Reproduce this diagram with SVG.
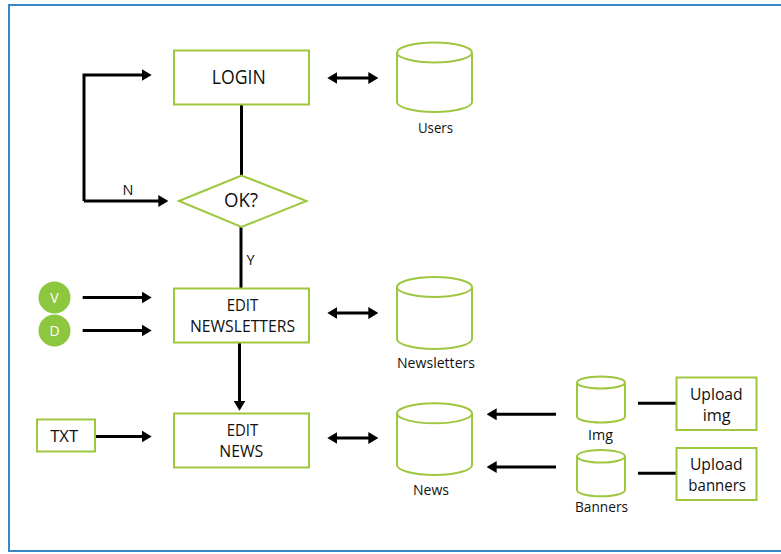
<svg xmlns="http://www.w3.org/2000/svg" width="781" height="554" viewBox="0 0 781 554">
  <style>
    .box { fill: #ffffff; stroke: #9dc73f; stroke-width: 2; }
    .db { fill: #ffffff; stroke: #9dc73f; stroke-width: 2; }
    .dot { fill: #8dc63f; }
    .wire { fill: none; stroke: #000000; stroke-width: 3; }
    .arrow { fill: none; stroke: #000000; stroke-width: 3; marker-end: url(#head); }
    .both { fill: none; stroke: #000000; stroke-width: 3; marker-start: url(#head); marker-end: url(#head); }
    text { font-family: "Open Sans", "Noto Sans", "DejaVu Sans", sans-serif; fill: #111111; text-anchor: middle; }
    .big { font-size: 20px; }
    .mid { font-size: 17px; }
    .up { font-size: 15.6px; }
    .small { font-size: 14.5px; }
    .dotlabel { font-size: 14px; fill: #ffffff; }
  </style>
  <defs>
    <marker id="head" viewBox="0 0 10 12" markerWidth="10" markerHeight="12" refX="2" refY="6" orient="auto-start-reverse" markerUnits="userSpaceOnUse">
      <path d="M0,0 L10,6 L0,12 z" fill="#000000"/>
    </marker>
  </defs>

  <!-- frame -->
  <rect x="9" y="5" width="790" height="546" fill="#ffffff" stroke="#3b87c6" stroke-width="2"/>

  <!-- connectors -->
  <g id="connectors">
    <path class="wire" d="M241.5,104 V176"/>
    <path class="arrow" d="M84,201 V75 H143.7"/>
    <path class="arrow" d="M84,201 H160.3"/>
    <path class="wire" d="M241,227 V288"/>
    <path class="both" d="M335.3,78 H370.3"/>
    <path class="both" d="M335.3,313 H370.3"/>
    <path class="both" d="M335.3,438 H370.3"/>
    <path class="arrow" d="M82.7,297.5 H143.7"/>
    <path class="arrow" d="M82.7,330.5 H143.7"/>
    <path class="arrow" d="M239.5,342 V402.7"/>
    <path class="arrow" d="M95,436.5 H143.7"/>
    <path class="arrow" d="M556,414.3 H494.7"/>
    <path class="arrow" d="M556,467 H494.7"/>
    <path class="wire" d="M638,403.3 H676"/>
    <path class="wire" d="M638,473.3 H676"/>
    <text class="small" x="128" y="195">N</text>
    <text class="small" x="250.5" y="265">Y</text>
  </g>

  <g id="login">
    <rect class="box" x="174" y="50.5" width="135" height="54"/>
    <text class="big" x="238.7" y="84" textLength="54" lengthAdjust="spacingAndGlyphs">LOGIN</text>
  </g>

  <g id="ok">
    <polygon class="box" points="179,201 241.5,175.5 306.5,201 241.5,227"/>
    <text class="big" x="241" y="207" textLength="34" lengthAdjust="spacingAndGlyphs">OK?</text>
  </g>

  <g id="users">
    <path class="db" d="M397,52.5 V102 A37.5,10 0 0 0 472,102 V52.5"/>
    <ellipse class="db" cx="434.5" cy="52.5" rx="37.5" ry="10"/>
    <text class="small" x="435.5" y="133" textLength="35" lengthAdjust="spacingAndGlyphs">Users</text>
  </g>

  <g id="edit-newsletters">
    <rect class="box" x="174" y="288.5" width="135" height="54"/>
    <text class="mid" x="242.5" y="310.7" textLength="31.6" lengthAdjust="spacingAndGlyphs">EDIT</text>
    <text class="mid" x="242.5" y="331.7" textLength="105" lengthAdjust="spacingAndGlyphs">NEWSLETTERS</text>
  </g>

  <g id="v">
    <circle class="dot" cx="54.5" cy="297.5" r="16"/>
    <text class="dotlabel" x="54.5" y="302.5">V</text>
  </g>

  <g id="d">
    <circle class="dot" cx="54.5" cy="330.5" r="16"/>
    <text class="dotlabel" x="54.5" y="335.5">D</text>
  </g>

  <g id="newsletters">
    <path class="db" d="M397,287 V339 A37.5,10 0 0 0 472,339 V287"/>
    <ellipse class="db" cx="434.5" cy="287" rx="37.5" ry="10"/>
    <text class="small" x="436" y="368" textLength="78" lengthAdjust="spacingAndGlyphs">Newsletters</text>
  </g>

  <g id="edit-news">
    <rect class="box" x="174" y="413.5" width="135" height="54"/>
    <text class="mid" x="242.5" y="435.7" textLength="31.6" lengthAdjust="spacingAndGlyphs">EDIT</text>
    <text class="mid" x="241.3" y="456.7" textLength="44" lengthAdjust="spacingAndGlyphs">NEWS</text>
  </g>

  <g id="txt">
    <rect class="box" x="37" y="419.5" width="58" height="32"/>
    <text class="mid" x="64.2" y="441.7" textLength="28" lengthAdjust="spacingAndGlyphs">TXT</text>
  </g>

  <g id="news">
    <path class="db" d="M397,413.3 V465 A37.5,10 0 0 0 472,465 V413.3"/>
    <ellipse class="db" cx="434.5" cy="413.3" rx="37.5" ry="10"/>
    <text class="small" x="431" y="495" textLength="36" lengthAdjust="spacingAndGlyphs">News</text>
  </g>

  <g id="img">
    <path class="db" d="M577,382.5 V416.5 A24,6 0 0 0 625,416.5 V382.5"/>
    <ellipse class="db" cx="601" cy="382.5" rx="24" ry="6"/>
    <text class="small" x="600.5" y="440" textLength="25" lengthAdjust="spacingAndGlyphs">Img</text>
  </g>

  <g id="banners">
    <path class="db" d="M577,456.3 V490 A24,6.3 0 0 0 625,490 V456.3"/>
    <ellipse class="db" cx="601" cy="456.3" rx="24" ry="6.3"/>
    <text class="small" x="601.5" y="511.5" textLength="53" lengthAdjust="spacingAndGlyphs">Banners</text>
  </g>

  <g id="upload-img">
    <rect class="box" x="676.5" y="377.5" width="80" height="52.5"/>
    <text class="up" x="716.3" y="400" textLength="52.7" lengthAdjust="spacingAndGlyphs">Upload</text>
    <text class="up" x="716.7" y="420.5" textLength="28" lengthAdjust="spacingAndGlyphs">img</text>
  </g>

  <g id="upload-banners">
    <rect class="box" x="676.5" y="448" width="80" height="52"/>
    <text class="up" x="716.3" y="470" textLength="52.7" lengthAdjust="spacingAndGlyphs">Upload</text>
    <text class="up" x="717.2" y="491" textLength="57.7" lengthAdjust="spacingAndGlyphs">banners</text>
  </g>
</svg>
